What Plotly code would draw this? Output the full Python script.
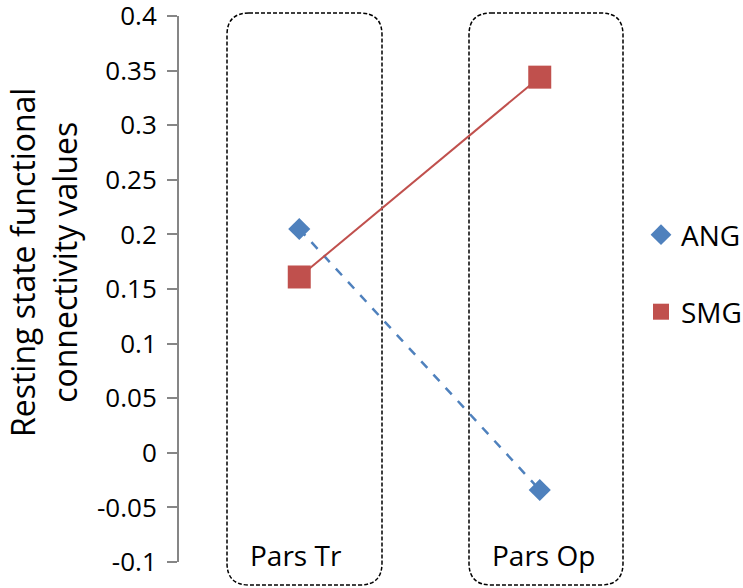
import plotly.graph_objects as go

# ---- data ----
categories = ["Pars Tr", "Pars Op"]
series_names = ["ANG", "SMG"]
ang_values = [0.205, -0.034]
smg_values = [0.161, 0.344]
y_tick_values = [-0.1, -0.05, 0, 0.05, 0.1, 0.15, 0.2, 0.25, 0.3, 0.35, 0.4]
y_tick_labels = ["-0.1", "-0.05", "0", "0.05", "0.1", "0.15", "0.2", "0.25", "0.3", "0.35", "0.4"]
y_title = "Resting state functional<br>connectivity values"

BLUE = "#4F81BD"
RED = "#C0504D"
FONT = "Open Sans"

W, H = 743, 588
ML, MR, MT, MB = 179, 83, 16, 26
PW, PH = W - ML - MR, H - MT - MB

fig = go.Figure()

# data lines (legend handled by marker-only entries)
fig.add_trace(go.Scatter(
    x=categories, y=ang_values, mode="lines+markers", name=series_names[0],
    line=dict(color=BLUE, width=2.5, dash="dash"),
    marker=dict(symbol="diamond", size=17, color=BLUE),
    showlegend=False, cliponaxis=False,
))
fig.add_trace(go.Scatter(
    x=categories, y=smg_values, mode="lines+markers", name=series_names[1],
    line=dict(color=RED, width=2),
    marker=dict(symbol="square", size=23, color=RED),
    showlegend=False, cliponaxis=False,
))
# legend entries (marker only, as in the reference)
fig.add_trace(go.Scatter(
    x=[None], y=[None], mode="markers", name=series_names[0],
    marker=dict(symbol="diamond", size=16, color=BLUE), legend="legend",
))
fig.add_trace(go.Scatter(
    x=[None], y=[None], mode="markers", name=series_names[1],
    marker=dict(symbol="square", size=16, color=RED), legend="legend2",
))

# dashed rounded boxes around each category (paper coords)
def rounded_box(x0, x1, y0, y1, rx, ry):
    return (f"M {x0+rx},{y1} L {x1-rx},{y1} Q {x1},{y1} {x1},{y1-ry} "
            f"L {x1},{y0+ry} Q {x1},{y0} {x1-rx},{y0} "
            f"L {x0+rx},{y0} Q {x0},{y0} {x0},{y0+ry} "
            f"L {x0},{y1-ry} Q {x0},{y1} {x0+rx},{y1} Z")

def px_x(p):
    return (p - ML) / PW

def px_y(p):
    return 1 - (p - MT) / PH

rx, ry = 22 / PW, 22 / PH
box_top, box_bottom = px_y(13), px_y(585)
box_lefts = [px_x(227), px_x(469)]
box_rights = [px_x(382), px_x(623)]
for bx0, bx1 in zip(box_lefts, box_rights):
    fig.add_shape(type="path", xref="paper", yref="paper",
                  path=rounded_box(bx0, bx1, box_bottom, box_top, rx, ry),
                  line=dict(color="black", width=1.5, dash="4px,2px"),
                  layer="below")

# category labels inside boxes
for cat, bx0 in zip(categories, box_lefts):
    fig.add_annotation(text=cat, xref="paper", yref="paper",
                       x=bx0 + 21 / PW, y=px_y(555), xanchor="left", yanchor="middle",
                       showarrow=False, font=dict(family=FONT, size=28, color="black"))

# y-axis title (rotated text placed beside the axis)
fig.add_annotation(text=y_title, xref="paper", yref="paper",
                   x=px_x(43), y=px_y(263), xanchor="center", yanchor="middle",
                   textangle=-90, showarrow=False,
                   font=dict(family=FONT, size=32, color="black"))

fig.update_layout(
    width=W, height=H,
    margin=dict(l=ML, r=MR, t=MT, b=MB, autoexpand=False),
    paper_bgcolor="white", plot_bgcolor="white",
    font=dict(family=FONT, color="black"),
    xaxis=dict(type="category", range=[-0.5, 1.5], visible=False),
    yaxis=dict(
        range=[-0.1, 0.4], tickvals=y_tick_values, ticktext=y_tick_labels,
        showgrid=False, zeroline=False, showline=True, linecolor="#868686", linewidth=2,
        ticks="outside", ticklen=10, tickcolor="#868686", tickwidth=2,
        tickfont=dict(family=FONT, size=26, color="black"),
        ticklabelstandoff=5, ticklabeloverflow="allow",
        automargin=False,
    ),
    legend=dict(x=px_x(641), y=px_y(235), xanchor="left", yanchor="middle",
                font=dict(family=FONT, size=28, color="black"), bgcolor="rgba(0,0,0,0)"),
    legend2=dict(x=px_x(641), y=px_y(312), xanchor="left", yanchor="middle",
                 font=dict(family=FONT, size=28, color="black"), bgcolor="rgba(0,0,0,0)"),
)

fig.write_html("out.html", config={"displayModeBar": False},
               post_script="document.body.style.margin='0';")
